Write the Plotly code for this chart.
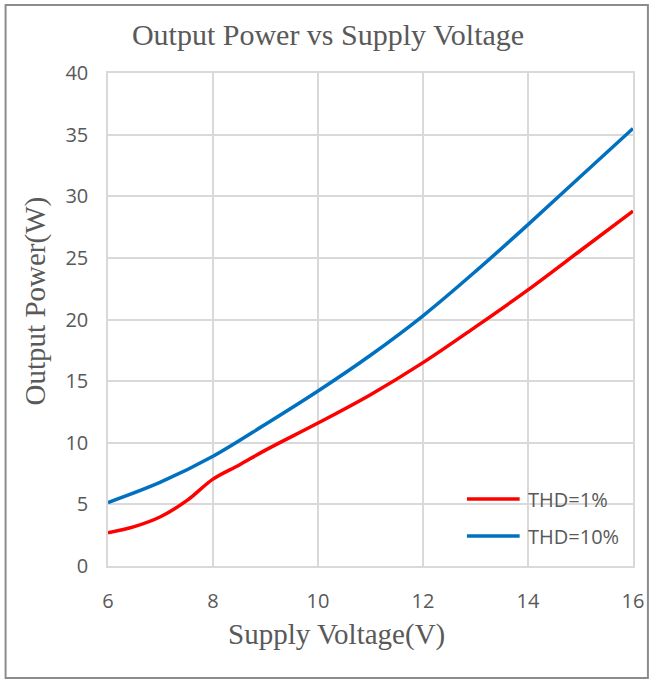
import plotly.graph_objects as go

voltage_1 = [6, 6.5, 7, 7.5, 8, 8.5, 9, 10, 11, 12, 13, 14, 15, 16]
thd1 = [2.7, 3.2, 4.0, 5.3, 7.05, 8.2, 9.4, 11.6, 13.9, 16.5, 19.4, 22.4, 25.6, 28.8]
voltage_10 = [6, 7, 8, 9, 10, 11, 12, 13, 14, 15, 16]
thd10 = [5.15, 6.8, 8.9, 11.5, 14.2, 17.1, 20.3, 23.9, 27.7, 31.6, 35.5]
series_names = ["THD=1%", "THD=10%"]
xticks = [6, 8, 10, 12, 14, 16]
yticks = [0, 5, 10, 15, 20, 25, 30, 35, 40]

TXT = "#595959"
GRID = "#d9d9d9"
COLORS = ["#ff0000", "#0070c0"]

W, H = 656, 680
L, R, T, B = 108, 20, 73, 114
PW, PH = W - L - R, H - T - B


def px(x):
    return (x - L) / PW


def py(y):
    return (H - B - y) / PH


fig = go.Figure()
for name, xs, vals, col in zip(series_names, [voltage_1, voltage_10], [thd1, thd10], COLORS):
    fig.add_trace(go.Scatter(x=xs, y=vals, mode="lines", name=name, showlegend=False,
                             line=dict(color=col, width=3.5, shape="spline", smoothing=1.0)))

shapes = [dict(type="rect", xref="paper", yref="paper",
               x0=px(5), x1=px(651), y0=py(678), y1=py(5),
               line=dict(color="#8c8c8c", width=2), layer="below")]
annotations = [
    dict(text="Supply Voltage(V)", xref="paper", yref="paper",
         x=px(338), y=py(634), xanchor="center", yanchor="middle",
         showarrow=False, font=dict(family="Liberation Serif", size=29, color=TXT)),
    dict(text="Output Power(W)", xref="paper", yref="paper",
         x=px(35), y=py(301), xanchor="center", yanchor="middle",
         textangle=-90, showarrow=False,
         font=dict(family="Liberation Serif", size=29, color=TXT)),
]
# custom legend
for i, (name, col) in enumerate(zip(series_names, COLORS)):
    ly = 499 + i * 37
    shapes.append(dict(type="line", xref="paper", yref="paper",
                       x0=px(469), x1=px(522), y0=py(ly), y1=py(ly),
                       line=dict(color=col, width=3.5)))
    annotations.append(dict(text=name, xref="paper", yref="paper",
                            x=px(528), y=py(ly), xanchor="left", yanchor="middle",
                            showarrow=False,
                            font=dict(family="Open Sans", size=20, color=TXT)))

fig.update_layout(
    width=W, height=H,
    margin=dict(l=L, r=R, t=T, b=B),
    paper_bgcolor="white", plot_bgcolor="white",
    title=dict(text="Output Power vs Supply Voltage", x=0.5, xanchor="center",
               y=1 - 34 / H, yanchor="middle",
               font=dict(family="Liberation Serif", size=30, color=TXT)),
    showlegend=False,
    xaxis=dict(range=[6, 16], tickvals=xticks, showgrid=True, gridcolor=GRID, gridwidth=1.5,
               zeroline=False, showline=True, linecolor=GRID, linewidth=1.5, mirror=True,
               ticks="outside", ticklen=16, tickcolor="rgba(0,0,0,0)",
               tickfont=dict(family="Open Sans", size=20, color=TXT)),
    yaxis=dict(range=[0, 40], tickvals=yticks, showgrid=True, gridcolor=GRID, gridwidth=1.5,
               zeroline=False, showline=True, linecolor=GRID, linewidth=1.5, mirror=True,
               ticks="outside", ticklen=14, tickcolor="rgba(0,0,0,0)",
               tickfont=dict(family="Open Sans", size=20, color=TXT)),
    annotations=annotations,
    shapes=shapes,
)

fig.write_html("out.html", config={"displayModeBar": False},
               post_script="document.body.style.margin='0';document.body.style.overflow='hidden';")
